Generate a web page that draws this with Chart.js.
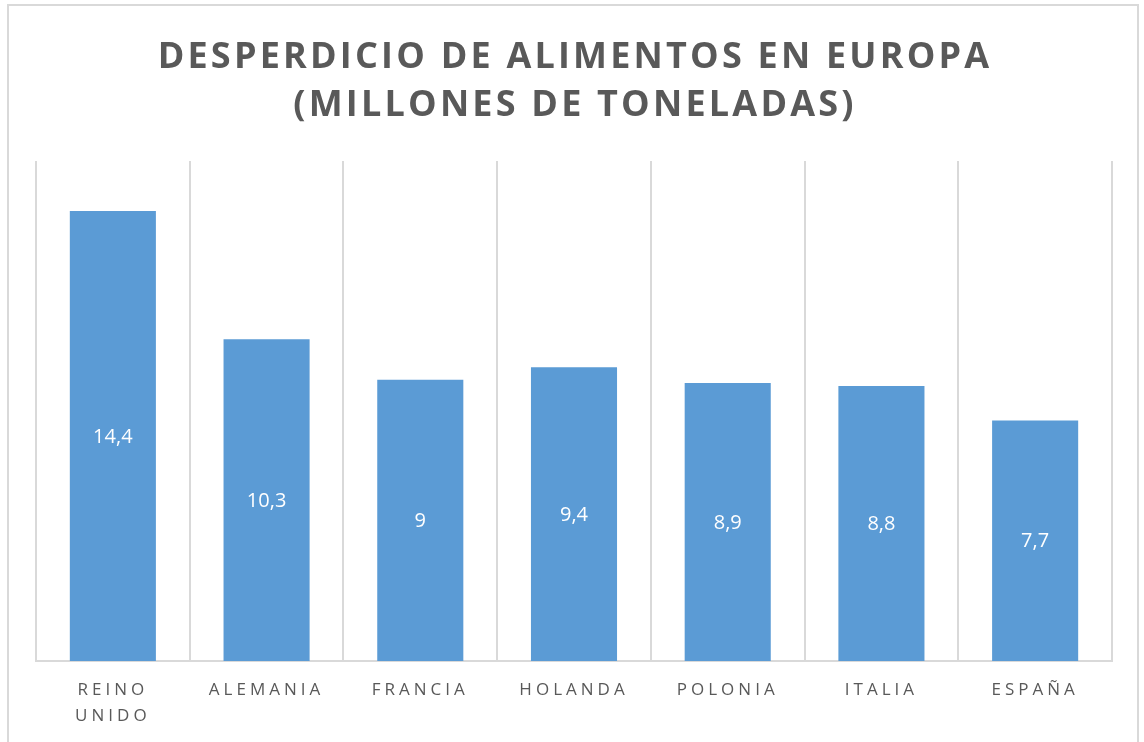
<!DOCTYPE html>
<html>
<head>
<meta charset="utf-8">
<script src="https://cdn.jsdelivr.net/npm/chart.js@4.4.1/dist/chart.umd.min.js"></script>
<style>
  html, body { margin: 0; padding: 0; background: #fff; }
  #marco { position: absolute; left: 7px; top: 4px; width: 1132px; height: 760px; border: 2px solid #d9d9d9; border-bottom: none; box-sizing: border-box; }
  #lienzo { position: absolute; left: 0; top: 0; width: 1144px; height: 742px; }
</style>
</head>
<body>
<div id="marco"></div>
<div id="lienzo"><canvas id="grafico" width="1144" height="742"></canvas></div>
<script>
const paises = [["REINO", "UNIDO"], "ALEMANIA", "FRANCIA", "HOLANDA", "POLONIA", "ITALIA", "ESPAÑA"];
const toneladas = [14.4, 10.3, 9, 9.4, 8.9, 8.8, 7.7];
const lineasTitulo = ["DESPERDICIO DE ALIMENTOS EN EUROPA", "(MILLONES DE TONELADAS)"];
const ejeMin = 0;
const ejeMax = 16;

const gris = "#595959";
const azul = "#5b9bd5";
const rejilla = "#d9d9d9";

// titulo y etiquetas dibujados a mano por el espaciado entre letras
const pluginTexto = {
    id: "pluginTexto",
    beforeDraw: function(chart) {
        chart.ctx.letterSpacing = "4px";
    },
    afterDatasetsDraw: function(chart) {
        const ctx = chart.ctx;
        ctx.save();
        ctx.letterSpacing = "0px";
        ctx.fillStyle = "#ffffff";
        ctx.font = "20px 'Open Sans', sans-serif";
        ctx.textAlign = "center";
        ctx.textBaseline = "middle";
        const meta = chart.getDatasetMeta(0);
        meta.data.forEach(function(barra, i) {
            const y = (barra.y + barra.base) / 2;
            ctx.fillText(String(toneladas[i]).replace(".", ","), barra.x, y + 1);
        });
        ctx.restore();
    },
    afterDraw: function(chart) {
        const ctx = chart.ctx;
        ctx.save();
        ctx.letterSpacing = "3.2px";
        ctx.fillStyle = gris;
        ctx.font = "bold 36px 'Open Sans', sans-serif";
        ctx.textAlign = "center";
        ctx.textBaseline = "middle";
        ctx.fillText(lineasTitulo[0], 575, 58);
        ctx.fillText(lineasTitulo[1], 575, 106);
        ctx.restore();
    }
};

window.addEventListener("DOMContentLoaded", function() {
    const ctx = document.getElementById("grafico").getContext("2d");
    new Chart(ctx, {
        type: "bar",
        data: {
            labels: paises,
            datasets: [{
                data: toneladas,
                backgroundColor: azul,
                borderWidth: 0,
                categoryPercentage: 1,
                barPercentage: 0.56
            }]
        },
        options: {
            responsive: false,
            animation: false,
            layout: { padding: { top: 161, left: 36, right: 32, bottom: 0 } },
            plugins: { legend: { display: false }, title: { display: false }, tooltip: { enabled: false } },
            scales: {
                x: {
                    grid: { color: rejilla, lineWidth: 2, offset: true, drawTicks: false },
                    border: { color: rejilla, width: 2 },
                    ticks: { color: gris, font: { family: "'Open Sans', sans-serif", size: 17, lineHeight: 1.55 }, padding: 16, maxRotation: 0, autoSkip: false },
                    afterFit: function(scale) { scale.height = 81; }
                },
                y: { display: false, min: ejeMin, max: ejeMax }
            }
        },
        plugins: [pluginTexto]
    });
});
</script>
</body>
</html>
